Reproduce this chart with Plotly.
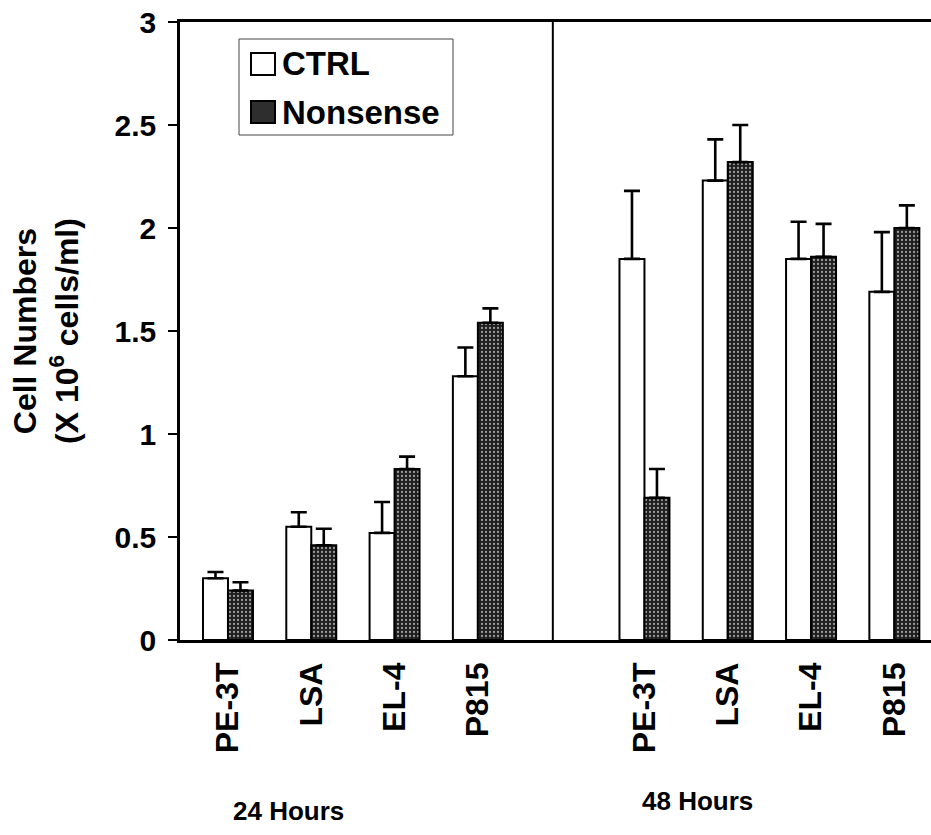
import plotly.graph_objects as go

# ---- data ----
cell_lines = ["PE-3T", "LSA", "EL-4", "P815"]
time_groups = ["24 Hours", "48 Hours"]

ctrl_24 = [0.30, 0.55, 0.52, 1.28]
ctrl_24_top = [0.33, 0.62, 0.67, 1.42]
nons_24 = [0.24, 0.46, 0.83, 1.54]
nons_24_top = [0.28, 0.54, 0.89, 1.61]

ctrl_48 = [1.85, 2.23, 1.85, 1.69]
ctrl_48_top = [2.18, 2.43, 2.03, 1.98]
nons_48 = [0.69, 2.32, 1.86, 2.00]
nons_48_top = [0.83, 2.50, 2.02, 2.11]

y_ticks = [0, 0.5, 1, 1.5, 2, 2.5, 3]
y_tick_text = ["0", "0.5", "1", "1.5", "2", "2.5", "3"]

# ---- layout helpers ----
W, H = 931, 835
L, R, T, B = 180, 0, 22, 195
pw, ph = W - L - R, H - T - B

def px_x(p):
    return (p - L) / pw

def px_y(p):
    return (H - B - p) / ph

n = len(cell_lines)
xpos = [i + 1 for i in range(n)] + [i + n + 2 for i in range(n)]
ctrl = ctrl_24 + ctrl_48
ctrl_top = ctrl_24_top + ctrl_48_top
nons = nons_24 + nons_48
nons_top = nons_24_top + nons_48_top

FONT = "Arial, 'Liberation Sans', sans-serif"
FS = 29

fig = go.Figure()
fig.add_trace(go.Bar(
    x=xpos, y=ctrl, name="CTRL",
    marker=dict(color="white", line=dict(color="black", width=2)),
    error_y=dict(type="data", symmetric=False,
                 array=[t - v for t, v in zip(ctrl_top, ctrl)],
                 arrayminus=[0] * len(ctrl),
                 color="black", thickness=2.6, width=8),
))
fig.add_trace(go.Bar(
    x=xpos, y=nons, name="Nonsense",
    marker=dict(color="#222222", line=dict(color="black", width=2),
                pattern=dict(shape=".", bgcolor="#1e1e1e", fgcolor="#9a9a9a",
                             size=4, solidity=0.25, fillmode="replace")),
    error_y=dict(type="data", symmetric=False,
                 array=[t - v for t, v in zip(nons_top, nons)],
                 arrayminus=[0] * len(nons),
                 color="black", thickness=2.6, width=8),
))

fig.update_layout(
    width=W, height=H,
    margin=dict(l=L, r=R, t=T, b=B),
    paper_bgcolor="white", plot_bgcolor="white",
    barmode="group", bargap=0.4, bargroupgap=0,
    showlegend=False,
    font=dict(family=FONT, size=FS, color="black"),
)

fig.update_xaxes(
    range=[0.424, 9.44],
    tickmode="array", tickvals=xpos, ticktext=cell_lines * 2,
    tickangle=-90, ticks="", showgrid=False, zeroline=False,
    ticklabelstandoff=7,
    showline=True, linecolor="black", linewidth=2.5, mirror=True,
    tickfont=dict(family=FONT, size=32, weight=700),
)
fig.update_yaxes(
    range=[0, 3],
    tickmode="array", tickvals=y_ticks, ticktext=y_tick_text,
    ticks="outside", ticklen=9, tickwidth=2, tickcolor="black",
    ticklabelstandoff=6,
    showgrid=False, zeroline=False,
    showline=True, linecolor="black", linewidth=2.5, mirror=False,
    tickfont=dict(family=FONT, size=30, weight=700),
)

# divider between time groups
fig.add_shape(type="line", xref="x", yref="paper", x0=4.90, x1=4.90, y0=0, y1=1,
              line=dict(color="black", width=2))

# y-axis title
fig.add_annotation(
    text="Cell Numbers<br>(X 10<sup>6</sup> cells/ml)",
    xref="paper", yref="paper", x=px_x(46), y=px_y(331),
    xanchor="center", yanchor="middle", textangle=-90, showarrow=False,
    font=dict(family=FONT, size=32, weight=700),
)

# group labels
fig.add_annotation(text=time_groups[0], xref="paper", yref="paper",
                   x=px_x(288), y=px_y(811), xanchor="center", yanchor="middle",
                   showarrow=False, font=dict(family=FONT, size=26, weight=700))
fig.add_annotation(text=time_groups[1], xref="paper", yref="paper",
                   x=px_x(697), y=px_y(801), xanchor="center", yanchor="middle",
                   showarrow=False, font=dict(family=FONT, size=26, weight=700))

# custom legend
fig.add_shape(type="rect", xref="paper", yref="paper",
              x0=px_x(239), x1=px_x(453), y0=px_y(135), y1=px_y(39),
              line=dict(color="#444444", width=1), fillcolor="white", layer="below")
fig.add_shape(type="rect", xref="paper", yref="paper",
              x0=px_x(251), x1=px_x(275), y0=px_y(75), y1=px_y(53),
              line=dict(color="black", width=2), fillcolor="white")
fig.add_shape(type="rect", xref="paper", yref="paper",
              x0=px_x(251), x1=px_x(275), y0=px_y(123), y1=px_y(101),
              line=dict(color="black", width=2), fillcolor="#2e2e2e")
fig.add_annotation(text="CTRL", xref="paper", yref="paper",
                   x=px_x(280), y=px_y(64), xanchor="left", yanchor="middle",
                   showarrow=False, font=dict(family=FONT, size=33, weight=700))
fig.add_annotation(text="Nonsense", xref="paper", yref="paper",
                   x=px_x(280), y=px_y(112), xanchor="left", yanchor="middle",
                   showarrow=False, font=dict(family=FONT, size=33, weight=700))

fig.write_html("out.html")
